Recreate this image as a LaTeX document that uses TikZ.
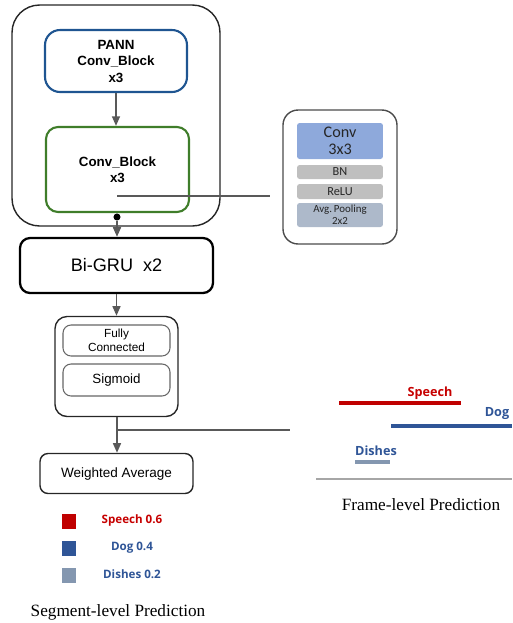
\documentclass[tikz,border=0pt]{standalone}
\usepackage{fontspec}
\setmainfont{Liberation Serif}
\setsansfont{Liberation Sans}
\newfontfamily\calfont{Carlito}
\newfontfamily\opfont{Open Sans}
\usepackage{tikz}
\usetikzlibrary{positioning}
\usetikzlibrary{arrows.meta}

\definecolor{pannblue}{RGB}{31,85,145}
\definecolor{convgreen}{RGB}{63,125,42}
\definecolor{linkgray}{RGB}{89,89,89}
\definecolor{convfill}{RGB}{142,169,219}
\definecolor{layerfill}{RGB}{191,191,191}
\definecolor{poolfill}{RGB}{173,185,202}
\definecolor{speechred}{RGB}{192,0,0}
\definecolor{dogblue}{RGB}{47,85,151}
\definecolor{dishgray}{RGB}{132,151,176}

\begin{document}
\begin{tikzpicture}[x=0.02cm, y=-0.02cm,
    box/.style={draw, rounded corners=#1, inner sep=0pt, align=center, font=\sffamily},
    box/.default=0.2cm,
    layer/.style={rounded corners=1.5pt, inner sep=0pt, minimum width=1.72cm, align=center, text=black!85},
    flow/.style={draw=linkgray, line width=1pt, -{Triangle[width=4.5pt,length=5.5pt]}},
    wire/.style={draw=linkgray, line width=1pt},
    swatch/.style={minimum width=0.28cm, minimum height=0.3cm, inner sep=0pt},
    tag/.style={font=\opfont\bfseries\fontsize{6.6}{8}\selectfont},
    track/.style={line width=2.4pt},
    caption/.style={font=\fontsize{9.8}{12}\selectfont}]

    \useasboundingbox (0,0) rectangle (512,623);

    % encoder
    \node [box=0.55cm, draw=black!85, line width=0.8pt, minimum width=4.16cm, minimum height=4.42cm] (enc) at (116,115.5) {};
    \node [box=0.3cm, draw=pannblue, line width=1.2pt, minimum width=2.84cm, minimum height=1.24cm,
           font=\sffamily\bfseries\fontsize{7.6}{9.4}\selectfont] (pann) at (116,61) {PANN\\Conv\_Block\\x3};
    \node [box=0.24cm, draw=convgreen, line width=1.2pt, minimum width=2.86cm, minimum height=1.7cm,
           font=\sffamily\bfseries\fontsize{7.6}{9.2}\selectfont] (cblock) at (117.5,169.5) {Conv\_Block\\x3};
    \coordinate (tap) at (117,196);
    \coordinate (link) at (270,196);

    % conv block detail
    \node [box=0.3cm, draw=black!70, line width=0.8pt, minimum width=2.28cm, minimum height=2.68cm] (detail) at (340,177) {};
    \node [layer, fill=convfill, minimum height=0.72cm, font=\calfont\fontsize{9.2}{9.6}\selectfont] (conv) at (340,141) {Conv\\3x3};
    \node [layer, fill=layerfill, minimum height=0.28cm, font=\calfont\fontsize{7}{7}\selectfont] (bn) at (340,172) {BN};
    \node [layer, fill=layerfill, minimum height=0.3cm, font=\calfont\fontsize{7}{7}\selectfont] (relu) at (340,191.5) {ReLU};
    \node [layer, fill=poolfill, minimum height=0.48cm, font=\calfont\fontsize{6.2}{6.6}\selectfont] (pool) at (340,215) {Avg.\,Pooling\\2x2};

    % recurrent part and head
    \node [circle, fill=black, inner sep=0pt, minimum size=4pt] (dot) at (117,217) {};
    \node [box, line width=1.3pt, minimum width=3.86cm, minimum height=1.1cm,
           font=\sffamily\fontsize{10.3}{12}\selectfont] (gru) at (116.5,265.5) {Bi-GRU\ \ x2};
    \node [box=0.24cm, draw=black!85, line width=0.8pt, minimum width=2.46cm, minimum height=2cm] (head) at (116.5,366.5) {};
    \node [box=0.16cm, draw=black!60, line width=0.6pt, minimum width=2.14cm, minimum height=0.62cm,
           font=\sffamily\fontsize{6.7}{8.2}\selectfont] (fc) at (116.5,340.5) {Fully\\Connected};
    \node [box=0.16cm, draw=black!60, line width=0.6pt, minimum width=2.14cm, minimum height=0.64cm,
           font=\sffamily\fontsize{7.6}{9}\selectfont] (sig) at (116.5,380) {Sigmoid};
    \coordinate (split) at (117,430);
    \coordinate (feed) at (290,430);
    \node [box=0.16cm, draw=black!85, line width=0.8pt, minimum width=3.06cm, minimum height=0.8cm,
           font=\sffamily\fontsize{7.7}{9}\selectfont] (wavg) at (116.5,473.5) {Weighted Average};

    \draw [flow] (pann) -- (cblock.north -| pann);
    \draw [wire] (tap) -- (link);
    \draw [flow] (dot) -- (gru.north -| dot);
    \draw [flow] (gru) -- (head);
    \draw [wire] (head.south -| split) -- (split);
    \draw [flow] (split) -- (wavg.north -| split);
    \draw [wire, line width=1.4pt] (split) -- (feed);

    % segment-level prediction
    \node [swatch, fill=speechred] (sq1) at (69,521.5) {};
    \node [swatch, fill=dogblue] (sq2) at (69,548.5) {};
    \node [swatch, fill=dishgray] (sq3) at (69,575) {};
    \node [tag, text=speechred!90!red] (seg1) at (132,520) {Speech 0.6};
    \node [tag, text=dogblue] (seg2) at (132,548) {Dog 0.4};
    \node [tag, text=dogblue] (seg3) at (132,574) {Dishes 0.2};
    \node [caption] (segcap) at (118,612) {Segment-level Prediction};

    % frame-level prediction
    \fill [speechred] (339,401) rectangle (461,405);
    \fill [dogblue] (391,424) rectangle (512,428);
    \fill [dishgray] (355,460) rectangle (390,464);
    \coordinate (ax1) at (316,479);  \coordinate (ax2) at (512,479);
    \draw [black!35, line width=0.8pt] (ax1) -- (ax2);
    \node [tag, font=\opfont\bfseries\fontsize{7.2}{8}\selectfont, text=speechred!90!red] (fr1) at (430,393) {Speech};
    \node [tag, font=\opfont\bfseries\fontsize{7.2}{8}\selectfont, text=dogblue] (fr2) at (497,413) {Dog};
    \node [tag, font=\opfont\bfseries\fontsize{7.2}{8}\selectfont, text=dogblue] (fr3) at (376,451) {Dishes};
    \node [caption] (framecap) at (421,505) {Frame-level Prediction};
\end{tikzpicture}
\end{document}
